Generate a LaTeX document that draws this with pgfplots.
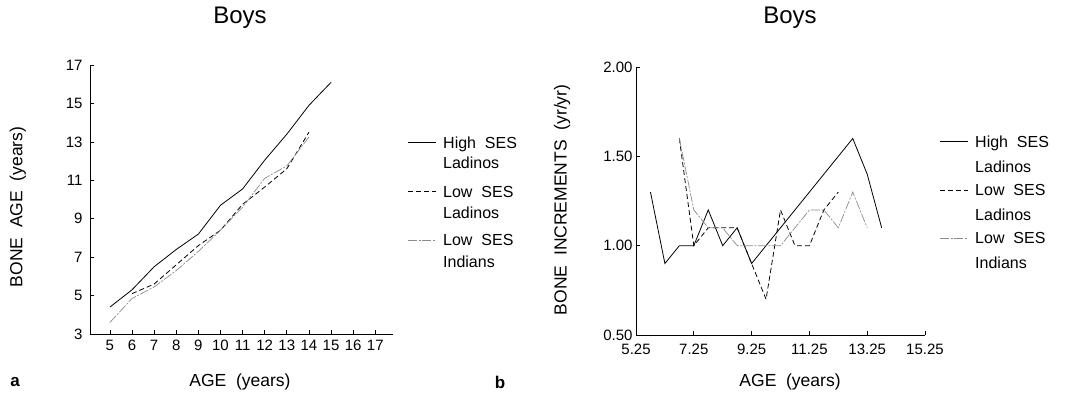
\documentclass[border=0pt]{standalone}
\usepackage{fontspec}
\setmainfont{Liberation Sans}
\usepackage{pgfplots}
\pgfplotsset{compat=1.18}
\definecolor{indgray}{gray}{0.55}
\tikzset{
  hiline/.style={black, line width=0.8bp},
  loline/.style={black, line width=0.8bp, dash pattern=on 5bp off 3bp},
  inline/.style={indgray, line width=0.7bp, dash pattern=on 9bp off 1.5bp on 2bp off 1.5bp},
}
\newcommand{\tkfont}{\fontsize{15bp}{17bp}\selectfont}
\newcommand{\lbfont}{\fontsize{17.5bp}{20bp}\selectfont}
\newcommand{\lgfont}{\fontsize{16bp}{18bp}\selectfont}
\pgfplotsset{
  boneaxis/.style={
    scale only axis,
    axis lines*=left,
    axis line style={black, line width=0.8bp},
    tick align=inside,
    major tick length=4bp,
    tick style={black, line width=0.7bp},
    /pgf/number format/assume math mode=true,
    tick label style={font=\tkfont},
    title style={font=\fontsize{24bp}{27bp}\selectfont, anchor=base},
    xlabel style={font=\lbfont, anchor=center},
    ylabel style={font=\lbfont, anchor=center, rotate=0},
    clip=false,
  }
}
\begin{document}
\begin{tikzpicture}
\useasboundingbox (0,0) rectangle (1069bp,394bp);
% ---------- panel a ----------
\begin{axis}[boneaxis,
  at={(90bp,60bp)}, anchor=south west,
  width=303bp, height=269bp,
  xmin=4.1, xmax=17.8, ymin=3, ymax=17,
  xtick={5,6,...,17}, ytick={3,5,...,17},
  yticklabel style={xshift=-4bp},
  xticklabel style={yshift=-3bp},
  title={Boys},
  title style={at={(axis description cs:0.495,1.133)}},
  xlabel={AGE\ \ (years)},
  xlabel style={at={(axis description cs:0.495,-0.178)}},
  ylabel={BONE\ \ AGE\ \ (years)},
  ylabel style={at={(axis description cs:-0.238,0.472)}},
]
\addplot[hiline] coordinates {(5,4.4) (6,5.3) (7,6.5) (8,7.4) (9,8.2) (10,9.7) (11,10.55) (12,12.05) (13,13.4) (14,14.9) (15,16.1)};
\addplot[loline] coordinates {(6,5.1) (7,5.6) (8,6.6) (9,7.6) (10,8.4) (11,9.75) (12,10.65) (13,11.6) (14,13.5)};
\addplot[inline] coordinates {(5,3.6) (6,4.85) (7,5.45) (8,6.3) (9,7.3) (10,8.4) (11,9.6) (12,11.1) (13,11.75) (14,13.25)};
\end{axis}
% ---------- panel b ----------
\begin{axis}[boneaxis,
  at={(636bp,59bp)}, anchor=south west,
  width=289bp, height=268bp,
  xmin=5.25, xmax=15.25, ymin=0.5, ymax=2,
  xtick={5.25,7.25,...,15.25}, ytick={0.5,1,1.5,2},
  xticklabel style={yshift=-6bp, /pgf/number format/.cd, fixed, fixed zerofill, precision=2},
  yticklabel style={/pgf/number format/.cd, fixed, fixed zerofill, precision=2},
  title={Boys},
  title style={at={(axis description cs:0.533,1.141)}},
  xlabel={AGE\ \ (years)},
  xlabel style={at={(axis description cs:0.533,-0.175)}},
  ylabel={BONE\ \ INCREMENTS\ \ (yr/yr)},
  ylabel style={at={(axis description cs:-0.256,0.504)}},
]
\addplot[hiline] coordinates {(5.75,1.3) (6.25,0.9) (6.75,1.0) (7.25,1.0) (7.75,1.2) (8.25,1.0) (8.75,1.1) (9.25,0.9) (9.75,1.0) (10.25,1.1) (10.75,1.2) (11.25,1.3) (11.75,1.4) (12.25,1.5) (12.75,1.6) (13.25,1.4) (13.75,1.1)};
\addplot[loline] coordinates {(6.75,1.6) (7.25,1.0) (7.75,1.1) (8.25,1.1) (8.75,1.1) (9.25,0.9) (9.75,0.7) (10.25,1.2) (10.75,1.0) (11.25,1.0) (11.75,1.2) (12.25,1.3)};
\addplot[inline] coordinates {(6.75,1.6) (7.25,1.2) (7.75,1.1) (8.25,1.1) (8.75,1.0) (9.25,1.0) (9.75,1.0) (10.25,1.0) (10.75,1.1) (11.25,1.2) (11.75,1.2) (12.25,1.1) (12.75,1.3) (13.25,1.1)};
\end{axis}
% ---------- legends ----------
\begin{scope}[font=\lgfont]
\draw[hiline] (408bp,251.3bp) -- (436bp,251.3bp);
\node[anchor=base west, inner sep=0] at (443bp,245.6bp) {High\ \ SES};
\node[anchor=base west, inner sep=0] at (443bp,225.3bp) {Ladinos};
\draw[loline] (408bp,202.3bp) -- (436bp,202.3bp);
\node[anchor=base west, inner sep=0] at (443bp,196.6bp) {Low\ \ SES};
\node[anchor=base west, inner sep=0] at (443bp,175.3bp) {Ladinos};
\draw[inline] (408bp,154bp) -- (436bp,154bp);
\node[anchor=base west, inner sep=0] at (443bp,148.3bp) {Low\ \ SES};
\node[anchor=base west, inner sep=0] at (443bp,126.6bp) {Indians};
%
\draw[hiline] (940bp,252.3bp) -- (968bp,252.3bp);
\node[anchor=base west, inner sep=0] at (975bp,246.6bp) {High\ \ SES};
\node[anchor=base west, inner sep=0] at (975bp,221.6bp) {Ladinos};
\draw[loline] (940bp,204bp) -- (968bp,204bp);
\node[anchor=base west, inner sep=0] at (975bp,198.3bp) {Low\ \ SES};
\node[anchor=base west, inner sep=0] at (975bp,173.3bp) {Ladinos};
\draw[inline] (940bp,156bp) -- (968bp,156bp);
\node[anchor=base west, inner sep=0] at (975bp,150.3bp) {Low\ \ SES};
\node[anchor=base west, inner sep=0] at (975bp,125.6bp) {Indians};
\end{scope}
% panel letters
\node[font=\fontsize{17bp}{19bp}\selectfont\bfseries] at (15bp,12bp) {a};
\node[font=\fontsize{17bp}{19bp}\selectfont\bfseries] at (500bp,12bp) {b};
\end{tikzpicture}
\end{document}
